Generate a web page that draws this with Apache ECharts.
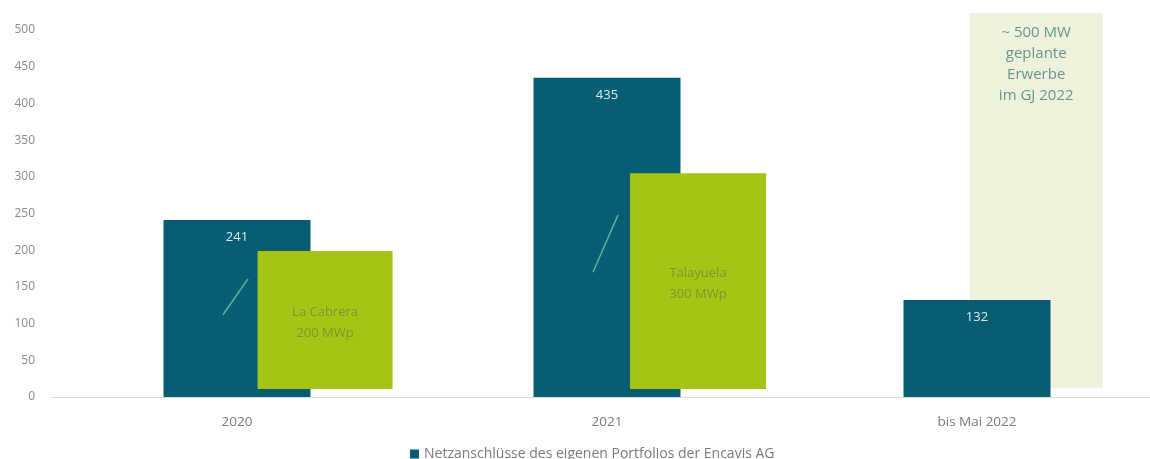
<!DOCTYPE html>
<html>
<head>
<meta charset="utf-8">
<script src="https://cdn.jsdelivr.net/npm/echarts@6/dist/echarts.min.js"></script>
<style>
  html, body { margin: 0; padding: 0; background: #fff; }
  #chart { width: 1150px; height: 459px; }
</style>
</head>
<body>
<div id="chart"></div>
<script>
const categories = ['2020', '2021', 'bis Mai 2022'];
const netConnections = [241, 435, 132];
// overlay boxes (acquisitions), low / high ends
const acqLow = [11, 11, 12];
const acqHigh = [199, 305, 523];
const acqLabels = ['La Cabrera\n200 MWp', 'Talayuela\n300 MWp', '~ 500 MW\ngeplante\nErwerbe\nim GJ 2022'];
// little diagonal strokes inside the dark bars
const strokeLow = [112, 170];
const strokeHigh = [161, 248];

const FONT = '"Open Sans", "Noto Sans", sans-serif';
const DARK = '#085d72';

// layout / style for the overlay boxes; "behind" ones sit under the dark bars
const acqStyle = [
  { shift: 0.238, width: 135, fill: '#a5c516', color: '#7d962e', place: 'middle', behind: false, size: 13 },
  { shift: 0.246, width: 136, fill: '#a5c516', color: '#7d962e', place: 'middle', behind: false, size: 13 },
  { shift: 0.160, width: 133, fill: '#eef2dd', color: '#67958c', place: 'top', behind: true, size: 15 }
];

function acqRenderer(behind) {
  return function (params, api) {
    const st = acqStyle[params.dataIndex];
    if (st.behind !== behind) return null;
    const lo = api.coord([api.value(0), api.value(1)]);
    const hi = api.coord([api.value(0), api.value(2)]);
    const band = api.size([1, 0])[0];
    const cx = lo[0] + band * st.shift;
    const h = lo[1] - hi[1];
    const ty = st.place === 'top' ? hi[1] + 9 : hi[1] + h / 2 + 3;
    return {
      type: 'group',
      children: [
        {
          type: 'rect',
          shape: { x: cx - st.width / 2, y: hi[1], width: st.width, height: h },
          style: { fill: st.fill }
        },
        {
          type: 'text',
          style: {
            text: acqLabels[params.dataIndex],
            x: cx,
            y: ty,
            align: 'center',
            verticalAlign: st.place === 'top' ? 'top' : 'middle',
            fill: st.color,
            fontSize: st.size,
            lineHeight: 21,
            fontFamily: FONT
          }
        }
      ]
    };
  };
}

const acqData = acqLow.map((v, i) => [i, v, acqHigh[i]]);

const chart = echarts.init(document.getElementById('chart'));

chart.setOption({
  animation: false,
  textStyle: { fontFamily: FONT },
  grid: { left: 52, width: 1110, top: 11.65, bottom: 62, outerBoundsMode: 'none', containLabel: false },
  legend: {
    data: ['Netzanschlüsse des eigenen Portfolios der Encavis AG'],
    left: 405,
    top: 442,
    icon: 'rect',
    itemWidth: 9,
    itemHeight: 9,
    itemGap: 4,
    textStyle: { color: '#7a7a7a', fontSize: 14, fontFamily: FONT }
  },
  xAxis: {
    type: 'category',
    data: categories,
    axisTick: { show: false },
    axisLine: { lineStyle: { color: '#dcdcdc', width: 1 } },
    axisLabel: { color: '#7a7a7a', fontSize: 13.5, margin: 18 }
  },
  yAxis: {
    type: 'value',
    min: 0,
    max: 525,
    interval: 50,
    splitLine: { show: false },
    axisLine: { show: false },
    axisTick: { show: false },
    axisLabel: { color: '#8a8a8a', fontSize: 12, margin: 17, showMaxLabel: false }
  },
  series: [
    {
      type: 'custom',
      data: acqData,
      z: 1,
      renderItem: acqRenderer(true)
    },
    {
      name: 'Netzanschlüsse des eigenen Portfolios der Encavis AG',
      type: 'bar',
      data: netConnections,
      barWidth: 147,
      itemStyle: { color: DARK },
      label: {
        show: true,
        position: 'insideTop',
        distance: 11,
        color: '#d9ecf0',
        fontSize: 13
      },
      z: 2
    },
    {
      type: 'custom',
      data: strokeLow.map((v, i) => [i, v, strokeHigh[i]]),
      z: 3,
      renderItem: function (params, api) {
        const a = api.coord([api.value(0), api.value(1)]);
        const b = api.coord([api.value(0), api.value(2)]);
        return {
          type: 'line',
          shape: { x1: a[0] - 14, y1: a[1], x2: b[0] + 11, y2: b[1] },
          style: { stroke: '#55b9a0', lineWidth: 1.5 }
        };
      }
    },
    {
      type: 'custom',
      data: acqData,
      z: 4,
      renderItem: acqRenderer(false)
    }
  ]
});
</script>
</body>
</html>
